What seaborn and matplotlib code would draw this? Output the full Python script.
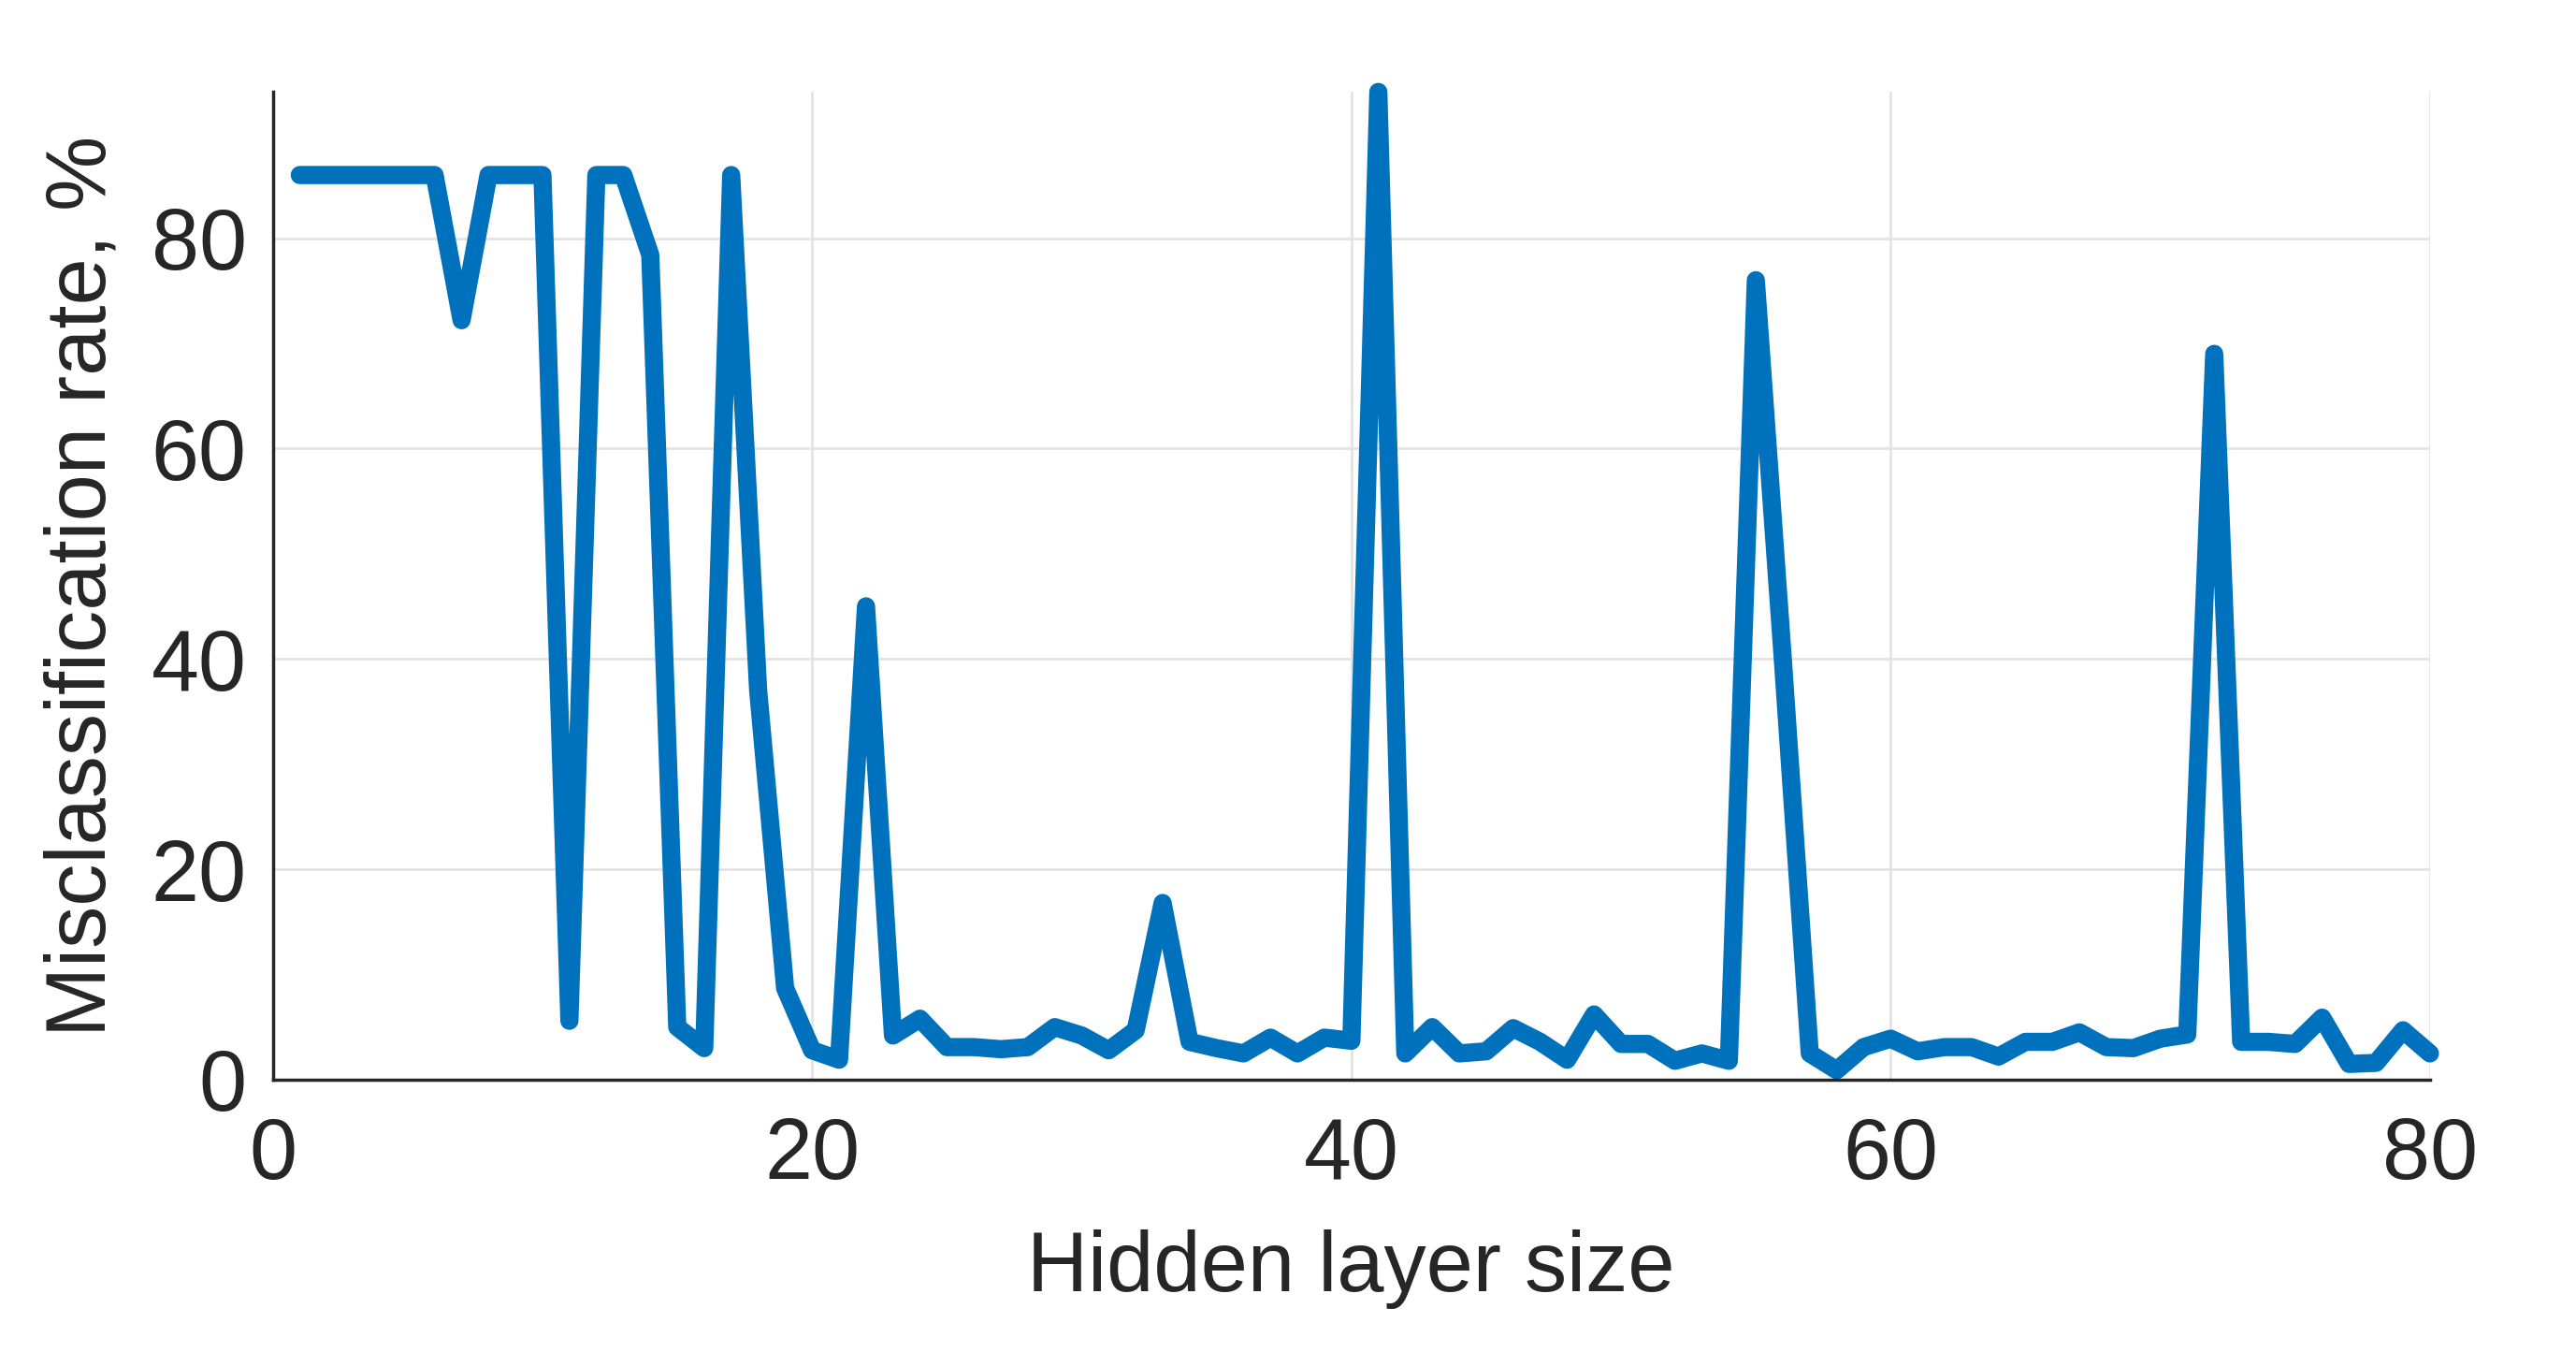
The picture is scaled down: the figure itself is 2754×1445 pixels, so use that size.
import numpy as np
import pandas as pd
import matplotlib
matplotlib.use('Agg')
import matplotlib.pyplot as plt
import seaborn as sns

# Hidden layer sizes 1..80 and the misclassification rate (%)
hidden_size = list(range(1, 81))
error_rate = [
    86, 86, 86, 86, 86, 86, 72.2, 86, 86, 86,
    5.6, 86, 86, 78.4, 5.0, 3.0, 86, 37, 8.7, 2.8,
    1.9, 45, 4.2, 5.8, 3.1, 3.1, 2.9, 3.1, 5.0, 4.2,
    2.8, 4.7, 16.8, 3.6, 3.0, 2.5, 4.0, 2.5, 4.0, 3.7,
    93.9, 2.5, 5.0, 2.5, 2.7, 4.9, 3.6, 1.9, 6.2, 3.4,
    3.4, 1.8, 2.5, 1.8, 76, 40, 2.5, 0.9, 3.1, 3.9,
    2.7, 3.1, 3.1, 2.2, 3.6, 3.6, 4.5, 3.1, 3.0, 3.9,
    4.3, 69, 3.6, 3.6, 3.4, 5.9, 1.5, 1.6, 4.7, 2.5,
]
x_ticks = [0, 20, 40, 60, 80]
y_ticks = [0, 20, 40, 60, 80]

data = pd.DataFrame({'size': hidden_size, 'rate': error_rate})

sns.set_style('whitegrid')
plt.rcParams['font.family'] = ['Liberation Sans', 'DejaVu Sans']

text_col = '#262626'
fig = plt.figure(figsize=(27.54, 14.45), dpi=100)
ax = fig.add_axes([0.1059, 0.2014, 0.8374, 0.7306])

sns.lineplot(data=data, x='size', y='rate', ax=ax, color='#0072BD', linewidth=14)
for l in ax.lines:
    l.set_solid_capstyle('round')
    l.set_solid_joinstyle('round')
    l.set_clip_on(False)

ax.set_xlim(0, 80)
ax.set_ylim(0, max(error_rate))
ax.set_xticks(x_ticks)
ax.set_yticks(y_ticks)

ax.grid(True, color='#e3e3e3', linewidth=2)
for side in ['top', 'right']:
    ax.spines[side].set_visible(False)
for side in ['left', 'bottom']:
    ax.spines[side].set_color(text_col)
    ax.spines[side].set_linewidth(2.5)

ax.tick_params(axis='both', direction='in', length=16, width=2.2, color=text_col,
               labelsize=66, labelcolor=text_col)
ax.tick_params(axis='x', pad=28)
ax.tick_params(axis='y', pad=20)

ax.set_xlabel('Hidden layer size', fontsize=65, color=text_col, labelpad=25)
ax.set_ylabel('Misclassification rate, %', fontsize=65, color=text_col, labelpad=22)

fig.savefig('out.png', dpi=100, facecolor='white')
